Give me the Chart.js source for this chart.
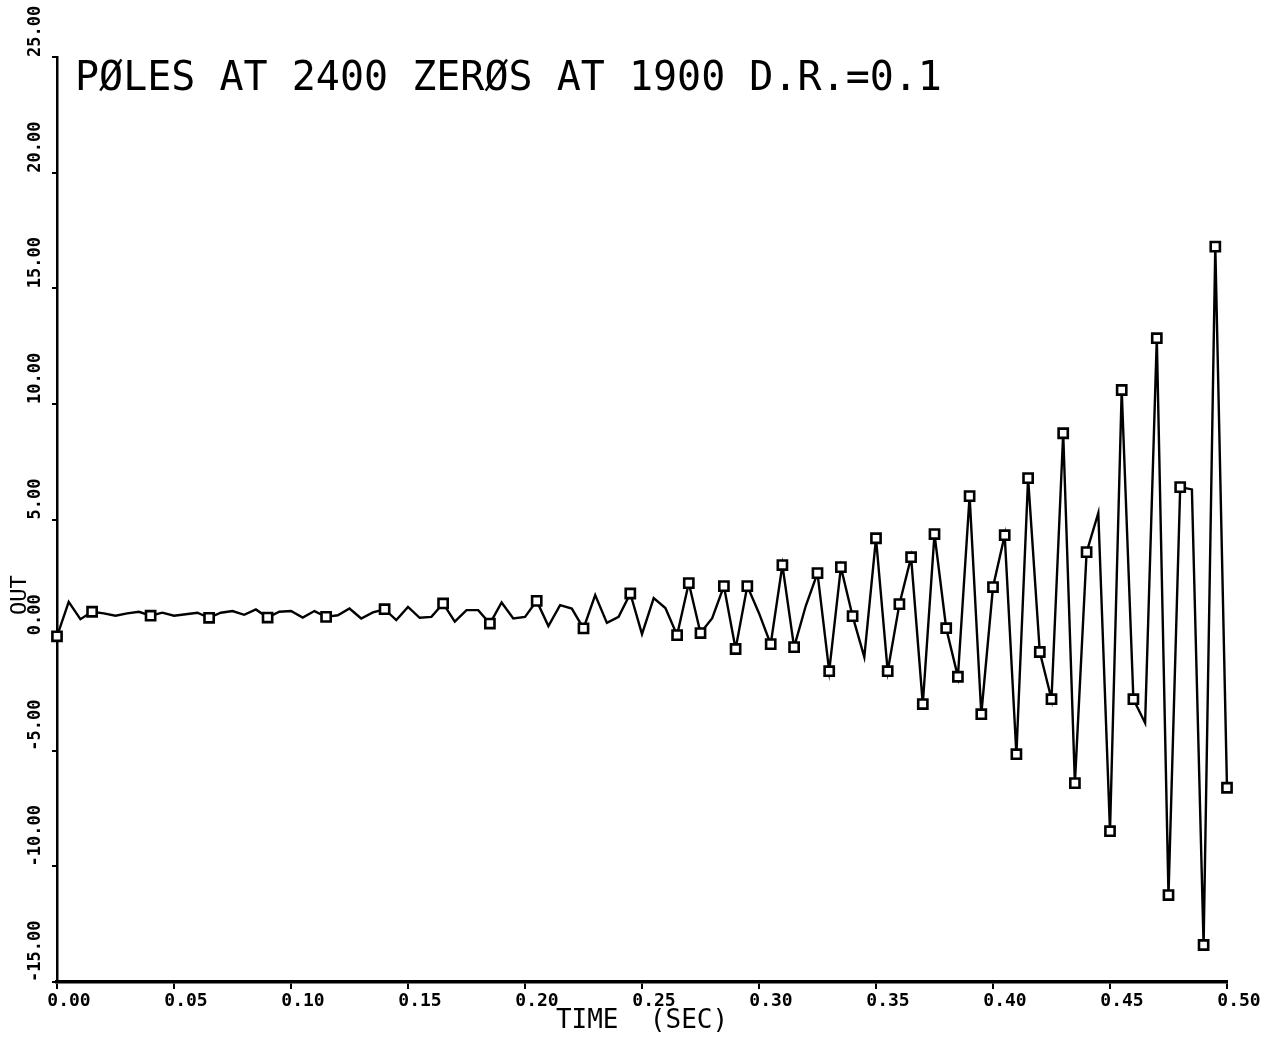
<!DOCTYPE html>
<html>
<head>
<meta charset="utf-8">
<title>POLES AT 2400 ZEROS AT 1900</title>
<script src="https://cdn.jsdelivr.net/npm/chart.js@4.4.1/dist/chart.umd.min.js"></script>
<style>
  html, body { margin: 0; padding: 0; background: #fff; }
  #wrap { width: 1281px; height: 1039px; }
</style>
</head>
<body>
<div id="wrap"><canvas id="chart-out" width="1281" height="1039"></canvas></div>
<script>
// ── DATA ──
const plotTitle = 'PØLES AT 2400 ZERØS AT 1900 D.R.=0.1';
const xAxisLabel = 'TIME  (SEC)';
const yAxisLabel = 'OUT';

// sample times (sec)
const times = [
  0.000, 0.005, 0.010, 0.015, 0.020, 0.025, 0.030, 0.035, 0.040, 0.045,
  0.050, 0.055, 0.060, 0.065, 0.070, 0.075, 0.080, 0.085, 0.090, 0.095,
  0.100, 0.105, 0.110, 0.115, 0.120, 0.125, 0.130, 0.135, 0.140, 0.145,
  0.150, 0.155, 0.160, 0.165, 0.170, 0.175, 0.180, 0.185, 0.190, 0.195,
  0.200, 0.205, 0.210, 0.215, 0.220, 0.225, 0.230, 0.235, 0.240, 0.245,
  0.250, 0.255, 0.260, 0.265, 0.270, 0.275, 0.280, 0.285, 0.290, 0.295,
  0.300, 0.305, 0.310, 0.315, 0.320, 0.325, 0.330, 0.335, 0.340, 0.345,
  0.350, 0.355, 0.360, 0.365, 0.370, 0.375, 0.380, 0.385, 0.390, 0.395,
  0.400, 0.405, 0.410, 0.415, 0.420, 0.425, 0.430, 0.435, 0.440, 0.445,
  0.450, 0.455, 0.460, 0.465, 0.470, 0.475, 0.480, 0.485, 0.490, 0.495,
  0.500
];

// filter output
const outValues = [
  -0.05, 1.44, 0.69, 1.01, 0.94, 0.84, 0.94, 1.01, 0.84, 0.97,
   0.84, 0.90, 0.97, 0.75, 0.97, 1.04, 0.88, 1.11, 0.76, 1.01,
   1.04, 0.76, 1.04, 0.79, 0.86, 1.15, 0.72, 0.98, 1.12, 0.65,
   1.22, 0.75, 0.79, 1.37, 0.58, 1.08, 1.08, 0.50, 1.41, 0.72,
   0.79, 1.48, 0.39, 1.30, 1.15, 0.29, 1.73, 0.53, 0.79, 1.80,
   0.04, 1.60, 1.17, 0.00, 2.25, 0.09, 0.73, 2.12, -0.60, 2.12,
   0.95, -0.39, 3.03, -0.52, 1.27, 2.68, -1.56, 2.94, 0.82, -0.95,
   4.19, -1.56, 1.34, 3.37, -2.98, 4.37, 0.30, -1.80, 6.01, -3.42,
   2.08, 4.32, -5.15, 6.79, -0.73, -2.77, 8.73, -6.40, 3.59, 5.28,
  -8.48, 10.60, -2.77, -3.80, 12.84, -11.24, 6.40, 6.30, -13.40, 16.80,
  -6.60
];

// samples that carry a square symbol
const markedSamples = [
  0, 3, 8, 13, 18, 23, 28, 33, 37, 41, 45, 49, 53, 54, 55, 57, 58, 59,
  61, 62, 63, 65, 66, 67, 68, 70, 71, 72, 73, 74, 75, 76, 77, 78, 79,
  80, 81, 82, 83, 84, 85, 86, 87, 88, 90, 91, 92, 94, 95, 96, 98, 99, 100
];

// axis ranges / ticks
const xMin = 0, xMax = 0.5, xStep = 0.05;
const yMin = -15, yMax = 25, yStep = 5;

// ── PLOTTER LETTERING (title inside the frame + rotated OUT) ──
const MONO = "'DejaVu Sans Mono', 'Liberation Mono', monospace";

const plotterText = {
  id: 'plotterText',
  afterDraw(chart) {
    const { ctx, chartArea, scales } = chart;
    ctx.save();
    ctx.fillStyle = '#000';

    ctx.font = `40px ${MONO}`;
    ctx.textAlign = 'left';
    ctx.textBaseline = 'alphabetic';
    ctx.fillText(plotTitle, chartArea.left + 18, chartArea.top + 33);

    const y0 = scales.y.getPixelForValue(0);
    ctx.translate(20, y0 - 40);
    ctx.rotate(-Math.PI / 2);
    ctx.font = `22px ${MONO}`;
    ctx.textAlign = 'center';
    ctx.textBaseline = 'middle';
    ctx.fillText(yAxisLabel, 0, 0);
    ctx.restore();
  }
};

// ── CHART ──
const marked = new Set(markedSamples);
const points = times.map((t, i) => ({ x: t, y: outValues[i] }));

new Chart(document.getElementById('chart-out').getContext('2d'), {
  type: 'line',
  data: {
    datasets: [{
      label: yAxisLabel,
      data: points,
      borderColor: '#000',
      borderWidth: 2.4,
      tension: 0,
      fill: false,
      pointStyle: 'rect',
      pointRadius: c => marked.has(c.dataIndex) ? 6.5 : 0,
      pointBackgroundColor: '#fff',
      pointBorderColor: '#000',
      pointBorderWidth: 2.6,
      clip: false
    }]
  },
  options: {
    responsive: false,
    animation: false,
    parsing: false,
    layout: { padding: { left: 27, right: 54, top: 57, bottom: 0 } },
    plugins: {
      legend: { display: false },
      tooltip: { enabled: false }
    },
    scales: {
      x: {
        type: 'linear',
        min: xMin,
        max: xMax,
        border: { color: '#000', width: 3.5 },
        grid: { drawOnChartArea: false, drawTicks: true, tickLength: 7, color: '#000', lineWidth: 2 },
        ticks: {
          stepSize: xStep,
          autoSkip: false,
          maxRotation: 0,
          padding: 2,
          labelOffset: 12,
          color: '#000',
          font: { family: MONO, size: 18, weight: 'bold' },
          callback: v => Number(v).toFixed(2)
        },
        title: {
          display: true,
          text: xAxisLabel,
          color: '#000',
          font: { family: MONO, size: 26 },
          padding: { top: 0, bottom: 2 }
        },
        afterFit: s => { s.height = 57; }
      },
      y: {
        min: yMin,
        max: yMax,
        border: { color: '#000', width: 2.5 },
        grid: { drawOnChartArea: false, drawTicks: true, tickLength: 5, color: '#000', lineWidth: 2 },
        ticks: {
          stepSize: yStep,
          autoSkip: false,
          minRotation: 90,
          maxRotation: 90,
          crossAlign: 'far',
          align: 'start',
          padding: 0,
          color: '#000',
          font: { family: MONO, size: 17, weight: 'bold' },
          callback: v => Number(v).toFixed(2)
        },
        afterFit: s => { s.width = 30; }
      }
    }
  },
  plugins: [plotterText]
});
</script>
</body>
</html>
